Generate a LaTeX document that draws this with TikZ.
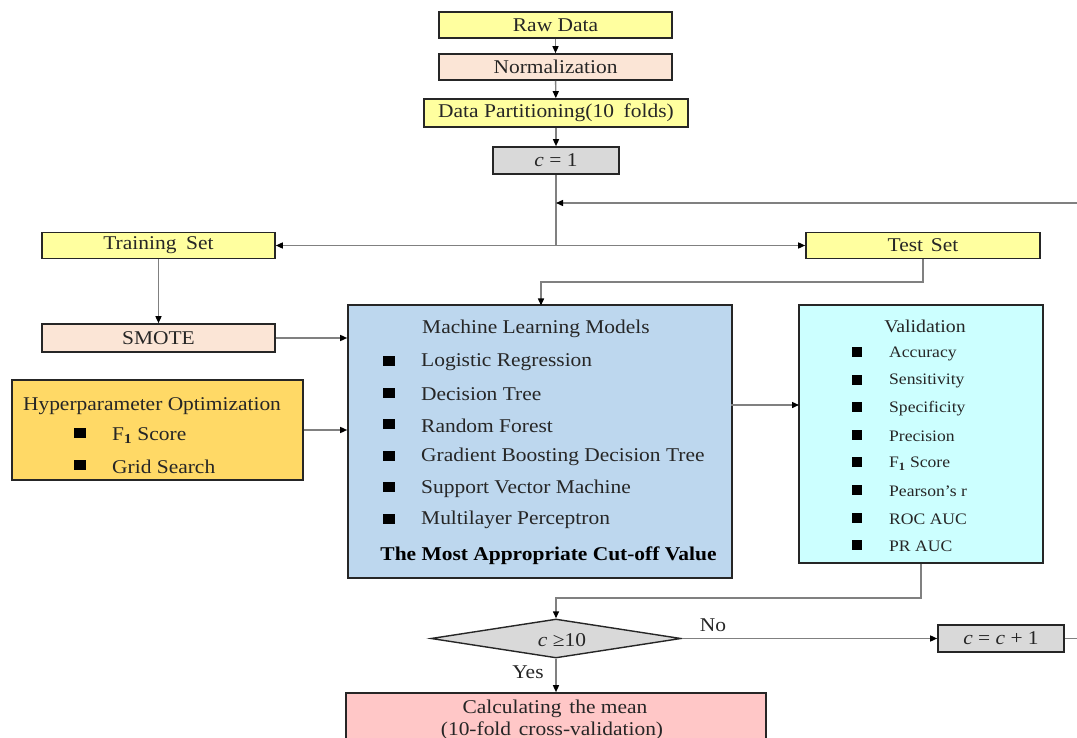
\documentclass[tikz,border=0pt]{standalone}
\usepackage{fontspec}
\setmainfont{Liberation Serif}[FakeStretch=1.1]
\usetikzlibrary{arrows.meta,shapes.geometric}
\definecolor{yel}{HTML}{FFFF9F}
\definecolor{peach}{HTML}{FBE5D6}
\definecolor{grayb}{HTML}{D9D9D9}
\definecolor{blueb}{HTML}{BDD7EE}
\definecolor{gold}{HTML}{FFD966}
\definecolor{cyanb}{HTML}{CCFFFF}
\definecolor{pinkb}{HTML}{FFC7C7}
\definecolor{boxline}{HTML}{262626}
\definecolor{lineg}{HTML}{808080}
\definecolor{txt}{HTML}{262626}
\begin{document}
\begin{tikzpicture}[x=1pt,y=-1pt,
  every node/.style={text=txt},
  mainfont/.style={font=\fontsize{19.5}{22}\selectfont},
  smallfont/.style={font=\fontsize{16}{19}\selectfont},
  box/.style={draw=boxline, line width=1.6pt, inner sep=0pt, mainfont},
  conn/.style={draw=lineg, line width=1.4pt},
  arr/.style={conn, -{Triangle[length=7pt,width=6pt,color=black]}},
  lbl/.style={mainfont, inner sep=0pt, yshift=-1.5pt}
]
\useasboundingbox (0,0) rectangle (1077,738);
\clip (0,0) rectangle (1077,738);
\fill[white] (0,0) rectangle (1077,738);

% top chain
\node[box, fill=yel, minimum width=233pt, minimum height=26pt] (raw) at (555.5,25) {Raw Data};
\node[box, fill=peach, minimum width=233pt, minimum height=26pt] (norm) at (555.5,67) {Normalization};
\node[box, fill=yel, minimum width=264pt, minimum height=28pt] (part) at (556,113) {Data Partitioning(10\hspace{0.5em}folds)};
\node[box, fill=grayb, minimum width=126pt, minimum height=27pt] (c1) at (556,160.5) {\textit{c} = 1};

\node[box, fill=yel, minimum width=233pt, minimum height=26pt] (train) at (158.5,245.5) {Training\hspace{0.5em}Set};
\node[box, fill=yel, minimum width=234pt, minimum height=26pt] (test) at (923,245.5) {Test\hspace{0.4em}Set};
\node[box, fill=peach, minimum width=233pt, minimum height=28pt] (smote) at (158.5,338) {SMOTE};

% ML box
\node[box, fill=blueb, minimum width=384pt, minimum height=273pt] (ml) at (540,441.5) {};
\node[lbl] (mlt) at (536,327) {Machine Learning Models};
\foreach \t [count=\i] in {Logistic Regression, Decision Tree, Random Forest, Gradient Boosting Decision Tree, Support Vector Machine, Multilayer Perceptron}{
  \pgfmathsetmacro\yy{361+31.5*(\i-1)}
  \fill[black] (383,\yy-5) rectangle (395,\yy+5);
  \node[lbl, anchor=west] (ml\i) at (421,\yy) {\t};
}
\node[lbl, text=black, font=\fontsize{19.5}{22}\selectfont\bfseries] (cut) at (548.5,554) {The Most Appropriate Cut-off Value};

% Hyperparameter box
\node[box, fill=gold, minimum width=291pt, minimum height=100pt] (hyp) at (157.5,430) {};
\node[lbl] (hypt) at (152,405) {Hyperparameter Optimization};
\fill[black] (74,428) rectangle (86,438);
\node[lbl, anchor=west] (hyp1) at (112,434) {F\textsubscript{\textbf{1}} Score};
\fill[black] (74,460) rectangle (86,470);
\node[lbl, anchor=west] (hyp2) at (112,465) {Grid Search};

% Validation box
\node[box, fill=cyanb, minimum width=244pt, minimum height=258pt] (val) at (921,434) {};
\node[lbl, font=\fontsize{18}{21}\selectfont] (valt) at (925,325) {Validation};
\foreach \t [count=\i] in {Accuracy, Sensitivity, Specificity, Precision, F\textsubscript{\textbf{1}} Score, Pearson’s r, ROC AUC, PR AUC}{
  \pgfmathsetmacro\yy{352+27.6*(\i-1)}
  \fill[black] (852,\yy-5) rectangle (862,\yy+5);
  \node[inner sep=0pt, smallfont, anchor=west, yshift=-1.5pt] (v\i) at (889,\yy) {\t};
}

% decision
\node[draw=boxline, line width=1.4pt, fill=grayb, shape=diamond, shape aspect=6.5, inner sep=0pt, minimum width=250pt, minimum height=39pt] (dec) at (556,638.5) {};
\node[lbl] (dect) at (562,639) {\textit{c} ≥10};
\node[box, fill=grayb, minimum width=126pt, minimum height=27pt] (cinc) at (1001,638.5) {\textit{c} = \textit{c} + 1};
\node[box, fill=pinkb, minimum width=420pt, minimum height=80pt] (mean) at (556,733) {};
\node[lbl] (mean1) at (555,707) {Calculating\hspace{0.4em}the mean};
\node[lbl] (mean2) at (552,729) {(10-fold\hspace{0.4em}cross-validation)};
\node[lbl] (no) at (713,624) {No};
\node[lbl] (yes) at (528,671) {Yes};

% coordinates
\coordinate (j) at (556,245.5);
\coordinate (loopIn) at (556,203);
\coordinate (loopR) at (1077,203);
\coordinate (cR) at (1077,638.5);

% connectors
\draw[arr] (raw) -- (norm);
\draw[arr] (norm) -- (part);
\draw[arr] (part) -- (c1);
\draw[conn] (c1) -- (j);
\draw[arr] (j) -- (train.east);
\draw[arr] (j) -- (test.west);
\draw[arr] (loopR) -- (loopIn);
\draw[arr] (train) -- (smote);
\draw[arr] (test.south) |- (541,282) -- (541,305.5);
\draw[arr] (smote.east) -- (smote.east -| ml.west);
\draw[arr] (hyp.east) -- (hyp.east -| ml.west);
\draw[arr] (731,405) -- (799,405);
\draw[arr] (val.south) |- (556,598) -- (dec.north);
\draw[arr] (dec.east) -- (cinc.west);
\draw[conn] (cinc.east) -- (cR);
\draw[arr] (dec.south) -- (mean.north);
\end{tikzpicture}
\end{document}
